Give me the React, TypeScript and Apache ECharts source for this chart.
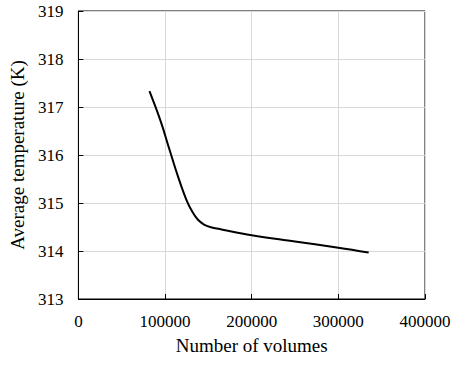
import React, { useEffect, useRef } from "react";
import * as echarts from "echarts";

const volumes = [82000, 95000, 105000, 115000, 125000, 132000, 138000, 145000, 152000, 165000, 200000, 250000, 300000, 335000];
const temperatures = [317.33, 316.7, 316.12, 315.55, 315.05, 314.8, 314.65, 314.55, 314.5, 314.45, 314.33, 314.2, 314.07, 313.97];

const xAxisTitle = "Number of volumes";
const yAxisTitle = "Average temperature (K)";

export default function App() {
  const ref = useRef<HTMLDivElement>(null);
  useEffect(() => {
    if (!ref.current) return;
    const chart = echarts.init(ref.current, undefined, { renderer: "svg" });
    const font = "Liberation Serif";
    chart.setOption({
      animation: false,
      backgroundColor: "#ffffff",
      textStyle: { fontFamily: font },
      grid: {
        left: 76,
        right: 42,
        top: 11,
        bottom: 72,
        show: true,
        borderColor: "#000",
        borderWidth: 1,
        backgroundColor: "transparent",
      },
      xAxis: {
        type: "value",
        min: 0,
        max: 400000,
        interval: 100000,
        name: xAxisTitle,
        nameLocation: "middle",
        nameGap: 37,
        nameTextStyle: { fontFamily: font, fontSize: 19, color: "#000" },
        axisLine: { show: true, lineStyle: { color: "#000", width: 1 } },
        axisTick: { show: true, inside: true, length: 5, lineStyle: { color: "#000" } },
        axisLabel: {
          fontFamily: font,
          fontSize: 17,
          color: "#000",
          margin: 14,
          formatter: (v: number) => String(v),
        },
        splitLine: { show: true, lineStyle: { color: "#d9d9d9", width: 1 } },
      },
      yAxis: {
        type: "value",
        min: 313,
        max: 319,
        interval: 1,
        name: yAxisTitle,
        nameLocation: "middle",
        nameGap: 48,
        nameTextStyle: { fontFamily: font, fontSize: 19, color: "#000" },
        axisLine: { show: true, lineStyle: { color: "#000", width: 1 } },
        axisTick: { show: true, inside: true, length: 5, lineStyle: { color: "#000" } },
        axisLabel: {
          fontFamily: font,
          fontSize: 17,
          color: "#000",
          margin: 15,
          formatter: (v: number) => String(v),
        },
        splitLine: { show: true, lineStyle: { color: "#d9d9d9", width: 1 } },
      },
      series: [
        {
          type: "line",
          data: volumes.map((v, i) => [v, temperatures[i]]),
          smooth: 0.4,
          showSymbol: false,
          symbol: "none",
          lineStyle: { color: "#000", width: 2 },
        },
      ],
    });
    return () => chart.dispose();
  }, []);
  return (
    <div
      ref={ref}
      style={{ position: "absolute", left: 0, top: 0, width: 467, height: 371 }}
    />
  );
}
